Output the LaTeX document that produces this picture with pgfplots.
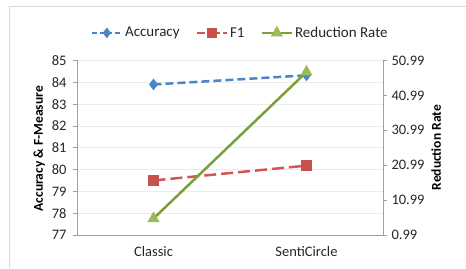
\documentclass[border=0pt]{standalone}
\usepackage{pgfplots}
\pgfplotsset{compat=1.18}
\usepackage{fontspec}
\setmainfont{Carlito}
\definecolor{accblue}{RGB}{74,134,200}
\definecolor{fred}{RGB}{214,84,80}
\definecolor{fredm}{RGB}{200,80,77}
\definecolor{rrgreen}{RGB}{122,160,60}
\definecolor{rrgreenm}{RGB}{155,187,89}
\definecolor{gridc}{RGB}{236,236,236}
\definecolor{axc}{RGB}{160,160,160}
\definecolor{framec}{RGB}{217,217,217}
\begin{document}
\begin{tikzpicture}[x=1pt,y=1pt]
\useasboundingbox (0,0) rectangle (466,268);
\draw[framec, line width=0.8pt] (9,0) -- (9,262) -- (466,262);
\begin{axis}[
  at={(77pt,33pt)}, anchor=south west,
  scale only axis, width=306pt, height=174.5pt,
  xmin=-0.5, xmax=1.5,
  ymin=77, ymax=85,
  ytick={77,78,...,85},
  xtick={0,1}, xticklabels={Classic,SentiCircle},
  extra x ticks={0.5}, extra x tick labels={},
  extra x tick style={major tick length=5pt, tick style={axc, line width=0.8pt}, xtick align=outside, grid=none},
  axis x line*=bottom, axis y line*=left,
  axis line style={axc, line width=0.8pt},
  x tick style={draw=none},
  y tick style={axc, line width=0.8pt},
  major tick length=4pt, tick align=outside,
  ymajorgrids, grid style={gridc, line width=0.8pt},
  tick label style={font=\fontsize{14.5}{14.5}\selectfont, text=black!85},
  xticklabel style={yshift=-4pt},
  yticklabel style={xshift=-3pt},
  /pgf/number format/assume math mode=true,
  ylabel={\textbf{Accuracy \& F-Measure}},
  ylabel style={font=\fontsize{13.5}{13.5}\selectfont, xshift=-1pt},
  clip=false,
]
\addplot[accblue, line width=2.5pt, dash pattern=on 8pt off 4pt, mark=diamond*, mark size=5.5pt, mark options={solid, fill=accblue, draw=accblue, line width=0.5pt}]
  coordinates {(0,83.9) (1,84.32)};
\addplot[fred, line width=2.5pt, dash pattern=on 12pt off 5pt, mark=square*, mark size=5pt, mark options={solid, fill=fredm, draw=fredm, line width=0.5pt}]
  coordinates {(0,79.5) (1,80.18)};
\end{axis}
\begin{axis}[
  at={(77pt,33pt)}, anchor=south west,
  scale only axis, width=306pt, height=174.5pt,
  xmin=-0.5, xmax=1.5,
  ymin=0.99, ymax=50.99,
  ytick={0.99,10.99,20.99,30.99,40.99,50.99},
  yticklabels={0.99,10.99,20.99,30.99,40.99,50.99},
  axis x line=none, axis y line*=right,
  axis line style={axc, line width=0.8pt},
  y tick style={axc, line width=0.8pt},
  major tick length=4pt, tick align=outside,
  tick label style={font=\fontsize{14.5}{14.5}\selectfont, text=black!85},
  yticklabel style={xshift=1pt},
  ylabel={\textbf{Reduction Rate}},
  ylabel style={font=\fontsize{13.5}{13.5}\selectfont},
  clip=false,
  legend columns=3,
  legend style={draw=none, fill=none, at={(0.533,1.158)}, anchor=center,
    font=\fontsize{15}{15}\selectfont, text=black!85,
    /tikz/every even column/.append style={column sep=14pt}},
  legend image code/.code={\draw[#1] (0pt,0pt) -- (15pt,0pt) (15pt,0pt) -- (30pt,0pt); \draw[#1, mark repeat=1] plot coordinates {(15pt,0pt)};},
]
\addlegendimage{accblue, line width=2.5pt, dash pattern=on 5pt off 3pt, mark=diamond*, mark size=5pt, mark options={solid, fill=accblue, draw=accblue, line width=0.5pt}}
\addlegendentry{Accuracy}
\addlegendimage{fred, line width=2.5pt, dash pattern=on 8pt off 3pt, mark=square*, mark size=4.5pt, mark options={solid, fill=fredm, draw=fredm, line width=0.5pt}}
\addlegendentry{F1}
\addplot[rrgreen, line width=2.5pt, mark=triangle*, mark size=6.5pt, mark options={solid, fill=rrgreenm, draw=rrgreenm, line width=0.5pt}]
  coordinates {(0,5.7) (1,47.7)};
\addlegendentry{Reduction Rate}
\end{axis}
\end{tikzpicture}
\end{document}
